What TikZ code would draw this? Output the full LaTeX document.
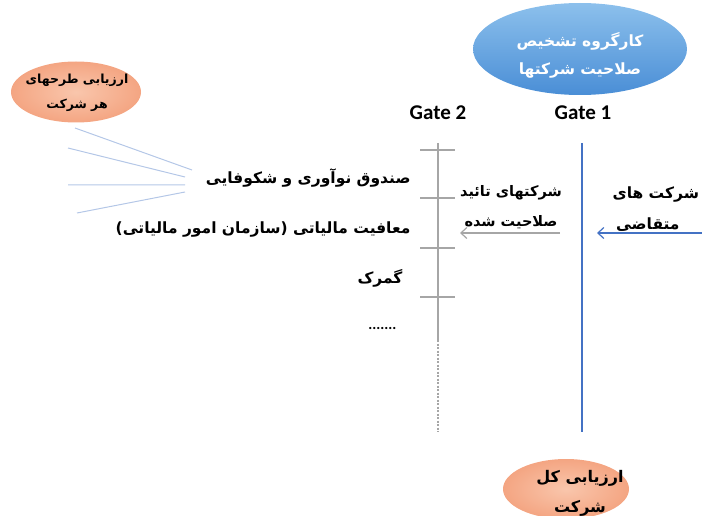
\documentclass[tikz,border=0pt]{standalone}
\usepackage{fontspec}
\setmainfont{Carlito}
\newfontfamily\arabicfont[Script=Arabic]{DejaVu Sans}
\TeXXeTstate=1
\usetikzlibrary{positioning,shapes.geometric,arrows.meta}
\newcommand{\fatext}[1]{{\arabicfont\bfseries\beginR #1\endR}}

\definecolor{ovalblue}{HTML}{4A8ED6}
\definecolor{ovallight}{HTML}{8CC0EC}
\definecolor{salmon}{HTML}{F4A582}
\definecolor{salmonlight}{HTML}{F9C6AC}
\definecolor{gateblue}{HTML}{4472C4}
\definecolor{gategray}{HTML}{A6A6A6}
\definecolor{fanblue}{HTML}{B4C7E7}

\tikzset{
  oval/.style={ellipse, inner sep=0pt, align=center},
  blueoval/.style={oval, top color=ovallight, bottom color=ovalblue, text=white},
  orangeoval/.style={oval, inner color=salmonlight, outer color=salmon},
  item/.style={anchor=east, font=\fontsize{15.5}{18}\selectfont},
  gatelabel/.style={font=\fontsize{21}{24}\selectfont\bfseries},
  tick/.style={gategray, line width=1.2pt},
}

\begin{document}
\begin{tikzpicture}[x=1pt,y=-1pt]
    \useasboundingbox (0,0) rectangle (702,516);
    % ovals
    \node[blueoval, minimum width=214pt, minimum height=92pt] (panel) at (580,49) {};
    \node[text=white, align=center, font=\fontsize{15.5}{28}\selectfont] (paneltext) at (580,55)
        {\fatext{کارگروه تشخیص}\\ \fatext{صلاحیت شرکتها}};
    \node[orangeoval, minimum width=130pt, minimum height=61pt] (plans) at (76,92) {};
    \node[align=center, font=\fontsize{12.5}{25}\selectfont] (planstext) at (77,93)
        {\fatext{ارزیابی طرحهای}\\ \fatext{هر شرکت}};
    \node[orangeoval, minimum width=126pt, minimum height=60pt] (whole) at (566,489) {};
    \node[align=center, font=\fontsize{16}{30}\selectfont] (wholetext) at (580,493)
        {\fatext{ارزیابی کل}\\ \fatext{شرکت}};
    % gates
    \node[gatelabel] (g2) at (438,113) {Gate 2};
    \node[gatelabel] (g1) at (583,113) {Gate 1};
    \coordinate (g2top) at (438,143);
    \coordinate (g2mid) at (438,340);
    \coordinate (g2bot) at (438,432);
    \coordinate (g1top) at (582,143);
    \coordinate (g1bot) at (582,432);
    \draw[tick] (g2top) -- (g2mid);
    \draw[gategray, line width=1.2pt, dash pattern=on 2pt off 1.5pt] (g2mid) -- (g2bot);
    \draw[gateblue, line width=1.4pt] (g1top) -- (g1bot);
    \foreach \y in {150,198,248,297}
        \draw[tick] (420,\y) -- (455,\y);
    % support items
    \node[item] (fund) at (414,178) {\fatext{صندوق نوآوری و شکوفایی}};
    \node[item] (tax) at (414,230) {\fatext{معافیت مالیاتی (سازمان امور مالیاتی)}};
    \node[item] (customs) at (406,278) {\fatext{گمرک}};
    \node[item, font=\fontsize{15}{18}\selectfont\bfseries] (more) at (400,328) {.......};
    % fan lines
    \coordinate (f1) at (75,128);  \coordinate (e1) at (192,170);
    \coordinate (f2) at (68,148);  \coordinate (e2) at (185,177);
    \coordinate (f3) at (68,185);  \coordinate (e3) at (185,185);
    \coordinate (f4) at (77,213);  \coordinate (e4) at (185,192);
    \draw[fanblue, line width=1pt] (f1) -- (e1) (f2) -- (e2) (f3) -- (e3) (f4) -- (e4);
    % applicants and approved
    \node[anchor=west, align=left, font=\fontsize{15.5}{31}\selectfont] (apply) at (609,209)
        {\fatext{شرکت های}\\ \ \fatext{متقاضی}};
    \node[align=center, font=\fontsize{14.5}{30}\selectfont] (ok) at (511,207)
        {\fatext{شرکتهای تائید}\\ \fatext{صلاحیت شده}};
    \coordinate (a1) at (702,233);
    \coordinate (a1end) at (597,233);
    \coordinate (a2) at (560,233);
    \coordinate (a2end) at (460,233);
    \path[-{Straight Barb[length=6pt,width=11pt]}]
        (a1) edge[gateblue, line width=1.2pt] (a1end)
        (a2) edge[gategray, line width=1.2pt] (a2end);
\end{tikzpicture}
\end{document}
